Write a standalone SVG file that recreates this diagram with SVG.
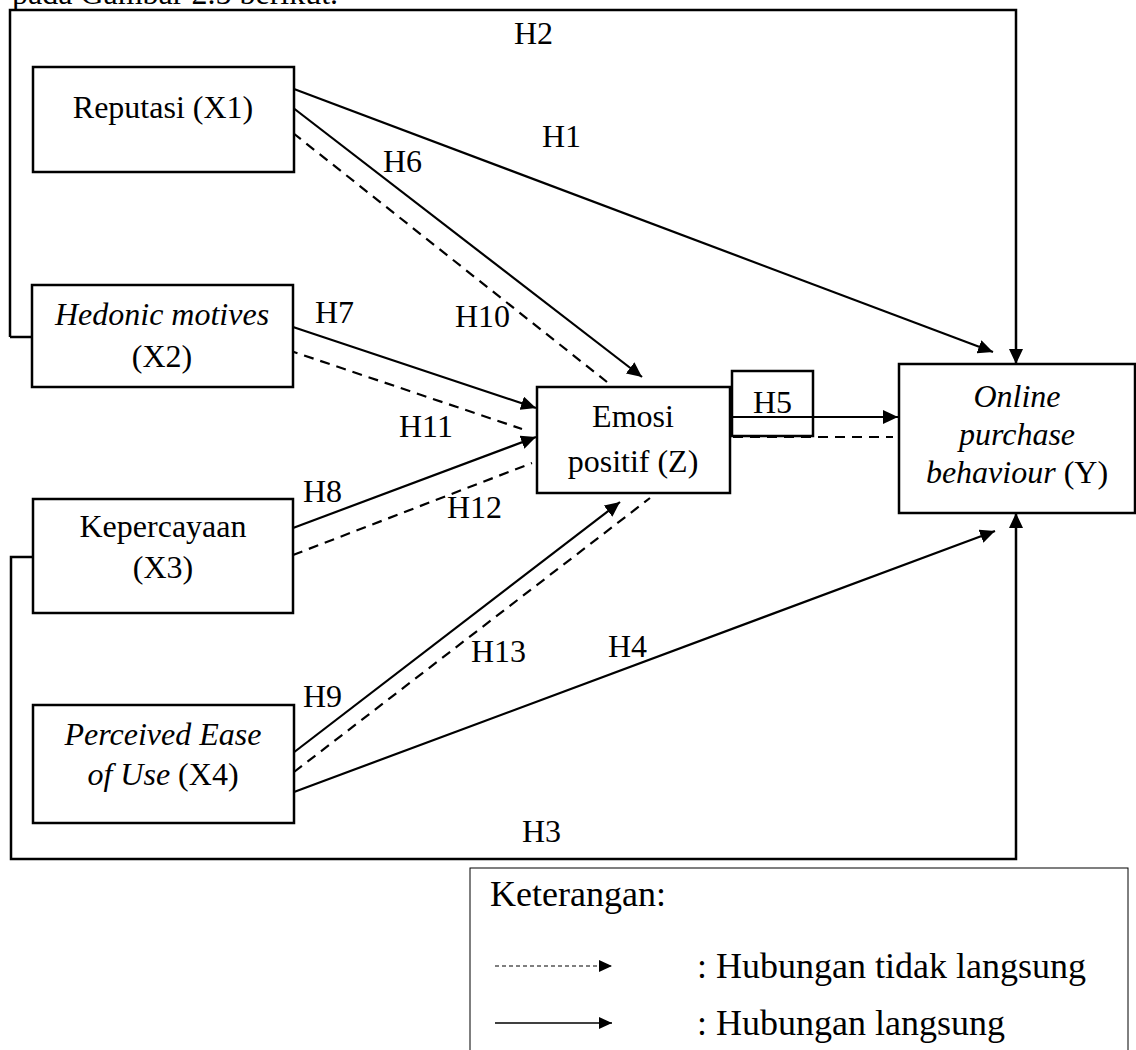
<svg xmlns="http://www.w3.org/2000/svg" width="1136" height="1050" viewBox="0 0 1136 1050">
<defs>
<marker id="ah" markerUnits="userSpaceOnUse" markerWidth="16" markerHeight="14" refX="15" refY="7" orient="auto">
<path d="M0,0 L15,7 L0,14 z" fill="#000"/>
</marker>
<marker id="ahs" markerUnits="userSpaceOnUse" markerWidth="14" markerHeight="12" refX="13" refY="6" orient="auto">
<path d="M0,0 L13,6 L0,12 z" fill="#000"/>
</marker>
<style>
text{font-family:"Liberation Serif","Times New Roman",serif;font-size:32px;fill:#000}
.c{text-anchor:middle}
.i{font-style:italic}
.box{fill:#fff;stroke:#000;stroke-width:2.5}
.sol{fill:none;stroke:#000;stroke-width:2.2}
.arr{marker-end:url(#ah)}
.dash{fill:none;stroke:#000;stroke-width:2.2;stroke-dasharray:10 7}
.frame{fill:none;stroke:#000;stroke-width:2.5}
.leg{fill:#fff;stroke:#000;stroke-width:1}
.lt{font-size:36px}
</style>
</defs>
<rect width="1136" height="1050" fill="#fff"/>
<text x="12" y="4">pada Gambar 2.5 berikut.</text>

<g id="connectors">
<path class="frame arr" d="M10,337 V10 H1016 V364"/>
<path class="frame" d="M10,337 H33"/>
<path class="frame arr" d="M33,557 H11 V859 H1016 V513"/>
<line class="sol arr" x1="294" y1="89" x2="993" y2="352"/>
<line class="sol arr" x1="292" y1="107" x2="642" y2="377"/>
<line class="dash" x1="293" y1="133" x2="607" y2="382"/>
<line class="sol arr" x1="293" y1="327" x2="536" y2="408"/>
<line class="dash" x1="288" y1="350" x2="522" y2="429"/>
<line class="sol arr" x1="293" y1="528" x2="536" y2="437"/>
<line class="dash" x1="293" y1="555" x2="532" y2="463"/>
<line class="sol arr" x1="293" y1="753" x2="620" y2="502"/>
<line class="dash" x1="294" y1="772" x2="650" y2="498"/>
<line class="sol arr" x1="294" y1="792" x2="995" y2="531"/>
<line class="sol arr" x1="733" y1="417" x2="898" y2="417"/>
<line class="dash" x1="733" y1="437" x2="893" y2="437"/>
</g>

<g id="labels">
<text x="514" y="44">H2</text>
<text x="542" y="147">H1</text>
<text x="383" y="172">H6</text>
<text x="315" y="323">H7</text>
<text x="455" y="327">H10</text>
<text x="399" y="437">H11</text>
<text x="303" y="502">H8</text>
<text x="447" y="518">H12</text>
<text x="471" y="662">H13</text>
<text x="608" y="657">H4</text>
<text x="303" y="707">H9</text>
<text x="522" y="842">H3</text>
</g>

<g id="X1">
<rect class="box" x="33" y="67" width="261" height="105"/>
<text class="c" x="163" y="118">Reputasi (X1)</text>
</g>
<g id="X2">
<rect class="box" x="32" y="285" width="261" height="102"/>
<text class="c i" x="162" y="325">Hedonic motives</text>
<text class="c" x="162" y="367">(X2)</text>
</g>
<g id="X3">
<rect class="box" x="33" y="499" width="260" height="114"/>
<text class="c" x="163" y="537">Kepercayaan</text>
<text class="c" x="163" y="578">(X3)</text>
</g>
<g id="X4">
<rect class="box" x="33" y="705" width="261" height="118"/>
<text class="c i" x="163" y="745">Perceived Ease</text>
<text class="c" x="163" y="785"><tspan class="i">of Use</tspan> (X4)</text>
</g>
<g id="Z">
<rect class="box" x="537" y="387" width="193" height="106"/>
<text class="c" x="633" y="427">Emosi</text>
<text class="c" x="633" y="472">positif (Z)</text>
</g>
<g id="H5">
<rect class="box" x="732" y="371" width="81" height="65" style="fill:none"/>
<text x="753" y="413">H5</text>
</g>
<g id="Y">
<rect class="box" x="899" y="364" width="236" height="149"/>
<text class="c i" x="1017" y="407">Online</text>
<text class="c i" x="1017" y="445">purchase</text>
<text class="c" x="1017" y="483"><tspan class="i">behaviour</tspan> (Y)</text>
</g>

<g id="legend">
<rect class="leg" x="470" y="868" width="658" height="190"/>
<text class="lt" x="490" y="906">Keterangan:</text>
<line x1="495" y1="966" x2="612" y2="966" stroke="#000" stroke-width="1.2" stroke-dasharray="4 3" marker-end="url(#ahs)"/>
<text class="lt" x="697" y="978">: Hubungan tidak langsung</text>
<line x1="495" y1="1023" x2="612" y2="1023" stroke="#000" stroke-width="1.6" marker-end="url(#ahs)"/>
<text class="lt" x="697" y="1035">: Hubungan langsung</text>
</g>
</svg>
